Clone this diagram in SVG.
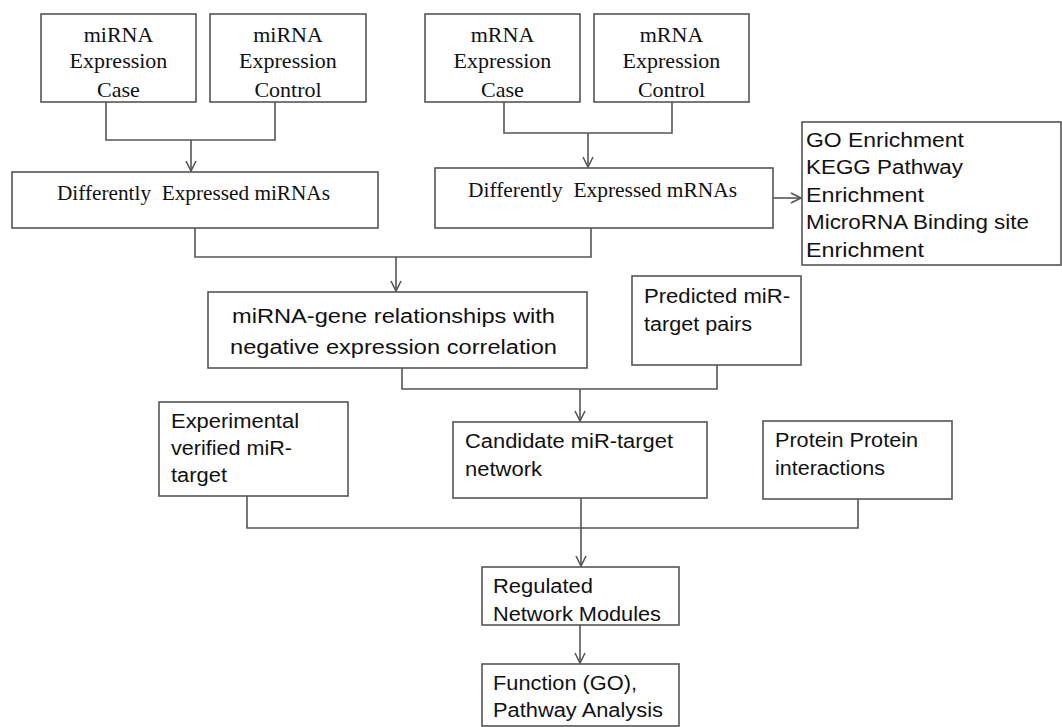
<svg xmlns="http://www.w3.org/2000/svg" width="1062" height="727" viewBox="0 0 1062 727">
<style>
.box{fill:#fff;stroke:#555;stroke-width:1.6}
.ln{fill:none;stroke:#555;stroke-width:1.6}
.sf{font-family:"Liberation Serif","Times New Roman",serif;font-size:22px;fill:#111;text-anchor:middle}
.ss{font-family:"Liberation Sans",Arial,sans-serif;font-size:20px;fill:#111}
</style>
<defs>
<marker id="arr" markerUnits="userSpaceOnUse" markerWidth="14" markerHeight="14" refX="11" refY="6" orient="auto">
<path d="M1,1 L11,6 L1,11" fill="none" stroke="#555" stroke-width="1.6"/>
</marker>
</defs>
<rect width="1062" height="727" fill="#fff"/>
<g id="connectors">
<polyline class="ln" points="106,102 106,140 275,140 275,102"/>
<line class="ln" x1="191" y1="140" x2="191" y2="171" marker-end="url(#arr)"/>
<polyline class="ln" points="504,102 504,133 672,133 672,102"/>
<line class="ln" x1="588" y1="133" x2="588" y2="167" marker-end="url(#arr)"/>
<polyline class="ln" points="195,228 195,257 591,257 591,228"/>
<line class="ln" x1="396" y1="257" x2="396" y2="291" marker-end="url(#arr)"/>
<line class="ln" x1="773" y1="198" x2="801" y2="198" marker-end="url(#arr)"/>
<polyline class="ln" points="402,368 402,389 717,389 717,365"/>
<line class="ln" x1="580" y1="389" x2="580" y2="421" marker-end="url(#arr)"/>
<polyline class="ln" points="247,496 247,528 858,528 858,499"/>
<line class="ln" x1="581" y1="498" x2="581" y2="566" marker-end="url(#arr)"/>
<line class="ln" x1="580" y1="625" x2="580" y2="663" marker-end="url(#arr)"/>
</g>
<g id="mirna-case">
<rect class="box" x="41" y="14" width="155" height="88"/>
<text class="sf" x="118.5" y="42">miRNA</text>
<text class="sf" x="118.5" y="68">Expression</text>
<text class="sf" x="118.5" y="97">Case</text>
</g>
<g id="mirna-control">
<rect class="box" x="210" y="14" width="156" height="88"/>
<text class="sf" x="288" y="42">miRNA</text>
<text class="sf" x="288" y="68">Expression</text>
<text class="sf" x="288" y="97">Control</text>
</g>
<g id="mrna-case">
<rect class="box" x="425" y="14" width="155" height="88"/>
<text class="sf" x="502.5" y="42">mRNA</text>
<text class="sf" x="502.5" y="68">Expression</text>
<text class="sf" x="502.5" y="97">Case</text>
</g>
<g id="mrna-control">
<rect class="box" x="594" y="14" width="155" height="88"/>
<text class="sf" x="671.5" y="42">mRNA</text>
<text class="sf" x="671.5" y="68">Expression</text>
<text class="sf" x="671.5" y="97">Control</text>
</g>
<g id="de-mirnas">
<rect class="box" x="12" y="172" width="366" height="56"/>
<text class="sf" x="193.5" y="200" xml:space="preserve" textLength="273" lengthAdjust="spacingAndGlyphs">Differently  Expressed miRNAs</text>
</g>
<g id="de-mrnas">
<rect class="box" x="435" y="168" width="338" height="60"/>
<text class="sf" x="602.5" y="197" xml:space="preserve" textLength="269" lengthAdjust="spacingAndGlyphs">Differently  Expressed mRNAs</text>
</g>
<g id="go-enrichment">
<rect class="box" x="802" y="122" width="259" height="143"/>
<text class="ss" x="806" y="147" textLength="158" lengthAdjust="spacingAndGlyphs">GO Enrichment</text>
<text class="ss" x="806" y="174" textLength="157" lengthAdjust="spacingAndGlyphs">KEGG Pathway</text>
<text class="ss" x="806" y="202" textLength="118" lengthAdjust="spacingAndGlyphs">Enrichment</text>
<text class="ss" x="806" y="229" textLength="223" lengthAdjust="spacingAndGlyphs">MicroRNA Binding site</text>
<text class="ss" x="806" y="257" textLength="118" lengthAdjust="spacingAndGlyphs">Enrichment</text>
</g>
<g id="mirna-gene">
<rect class="box" x="208" y="292" width="379" height="76"/>
<text class="ss" x="232" y="323" textLength="323" lengthAdjust="spacingAndGlyphs">miRNA-gene relationships with</text>
<text class="ss" x="230" y="354" textLength="327" lengthAdjust="spacingAndGlyphs">negative expression correlation</text>
</g>
<g id="predicted">
<rect class="box" x="632" y="276" width="169" height="89"/>
<text class="ss" x="644" y="303" textLength="146" lengthAdjust="spacingAndGlyphs">Predicted miR-</text>
<text class="ss" x="644" y="331" textLength="108" lengthAdjust="spacingAndGlyphs">target pairs</text>
</g>
<g id="experimental">
<rect class="box" x="159" y="402" width="189" height="94"/>
<text class="ss" x="171" y="428" textLength="128" lengthAdjust="spacingAndGlyphs">Experimental</text>
<text class="ss" x="171" y="455" textLength="121" lengthAdjust="spacingAndGlyphs">verified miR-</text>
<text class="ss" x="171" y="482" textLength="56" lengthAdjust="spacingAndGlyphs">target</text>
</g>
<g id="candidate">
<rect class="box" x="453" y="422" width="254" height="76"/>
<text class="ss" x="465" y="448" textLength="208" lengthAdjust="spacingAndGlyphs">Candidate miR-target</text>
<text class="ss" x="465" y="476" textLength="77" lengthAdjust="spacingAndGlyphs">network</text>
</g>
<g id="ppi">
<rect class="box" x="763" y="421" width="189" height="78"/>
<text class="ss" x="775" y="447" textLength="143" lengthAdjust="spacingAndGlyphs">Protein Protein</text>
<text class="ss" x="775" y="475" textLength="110" lengthAdjust="spacingAndGlyphs">interactions</text>
</g>
<g id="modules">
<rect class="box" x="482" y="567" width="197" height="58"/>
<text class="ss" x="493" y="593" textLength="100" lengthAdjust="spacingAndGlyphs">Regulated</text>
<text class="ss" x="493" y="621" textLength="168" lengthAdjust="spacingAndGlyphs">Network Modules</text>
</g>
<g id="function">
<rect class="box" x="482" y="664" width="197" height="62"/>
<text class="ss" x="493" y="690" textLength="144" lengthAdjust="spacingAndGlyphs">Function (GO),</text>
<text class="ss" x="493" y="717" textLength="170" lengthAdjust="spacingAndGlyphs">Pathway Analysis</text>
</g>
</svg>
